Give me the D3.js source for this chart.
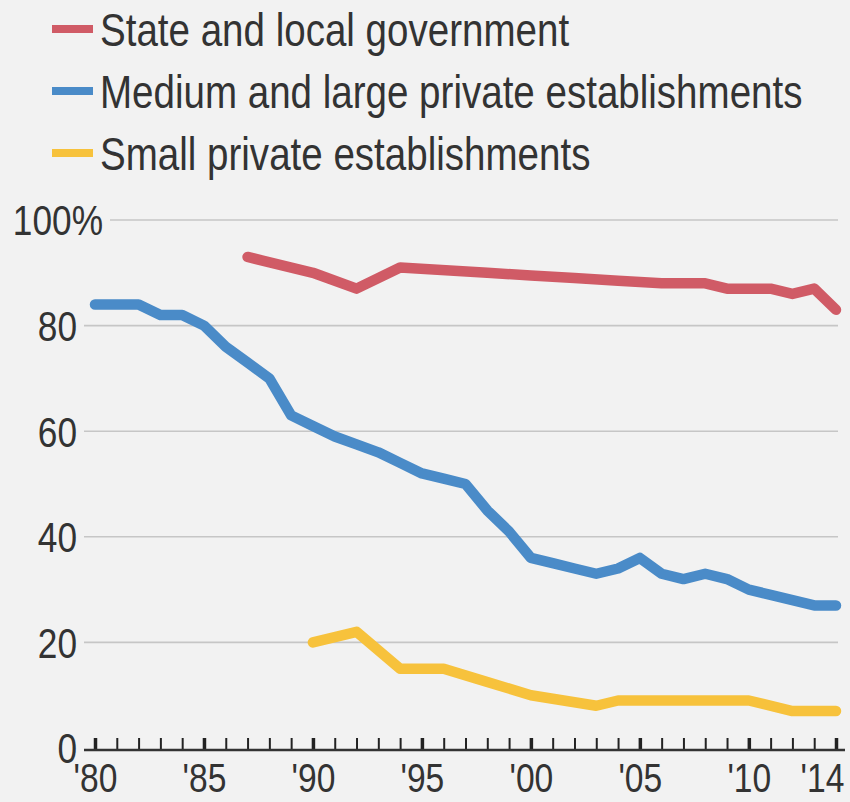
<!DOCTYPE html>
<html>
<head>
<meta charset="utf-8">
<script src="https://cdn.jsdelivr.net/npm/d3@7"></script>
<style>
  html, body { margin: 0; padding: 0; background: #f2f2f2; }
  svg { display: block; font-family: "Liberation Sans", Arial, sans-serif; }
</style>
</head>
<body>
<svg id="chart" width="850" height="802"></svg>
<script>
// Share of workers with access to retirement benefits, by employer type
const seriesNames = [
  "State and local government",
  "Medium and large private establishments",
  "Small private establishments",
];
const seriesColors = ["#d05b66", "#4a8bc8", "#f7c23c"];

const stateYears = [1987, 1990, 1992, 1994, 1998, 2000, 2002, 2004, 2006, 2008, 2009, 2010, 2011, 2012, 2013, 2014];
const stateValues = [93, 90, 87, 91, 90, 89.5, 89, 88.5, 88, 88, 87, 87, 87, 86, 87, 83];

const mediumYears = d3.range(1980, 2015);
const mediumValues = [84, 84, 84, 82, 82, 80, 76, 73, 70, 63, 61, 59, 57.5, 56, 54, 52, 51, 50, 45, 41,
  36, 35, 34, 33, 34, 36, 33, 32, 33, 32, 30, 29, 28, 27, 27];

const smallYears = [1990, 1992, 1994, 1996, 1998, 2000, 2003, 2004, 2010, 2012, 2014];
const smallValues = [20, 22, 15, 15, 12.5, 10, 8, 9, 9, 7, 7];

const yTicks = [0, 20, 40, 60, 80, 100];
const xLabelYears = [1980, 1985, 1990, 1995, 2000, 2005, 2010, 2014];

const series = [
  { years: stateYears, values: stateValues },
  { years: mediumYears, values: mediumValues },
  { years: smallYears, values: smallValues },
];

// condensed look: squeeze a regular sans horizontally
const squeeze = 0.82;

const svg = d3.select("#chart");

const x = d3.scaleLinear().domain([1980, 2014]).range([95, 836]);
const y = d3.scaleLinear().domain([0, 100]).range([748, 220]);

// gridlines
svg.append("g")
  .selectAll("line")
  .data(yTicks.filter((d) => d > 0))
  .join("line")
  .attr("x1", (d) => (d === 100 ? 110 : 84))
  .attr("x2", 838)
  .attr("y1", (d) => y(d))
  .attr("y2", (d) => y(d))
  .attr("stroke", "#c6c6c6")
  .attr("stroke-width", 1.6);

// y labels
svg.append("g")
  .selectAll("text")
  .data(yTicks)
  .join("text")
  .attr("transform", (d) => `translate(${d === 100 ? 103 : 77},${y(d)}) scale(${squeeze},1)`)
  .attr("dy", "0.36em")
  .attr("text-anchor", "end")
  .attr("font-size", 43)
  .attr("fill", "#333")
  .text((d) => (d === 100 ? d + "%" : d));

// x axis with yearly ticks
const xAxis = d3.axisBottom(x)
  .tickValues(d3.range(1980, 2015))
  .tickSizeInner(-12)
  .tickSizeOuter(0)
  .tickFormat((d) => (xLabelYears.includes(d) ? "'" + String(d).slice(2) : ""));

const gx = svg.append("g")
  .attr("transform", `translate(0,${y(0) + 2})`)
  .call(xAxis);

gx.select(".domain").remove();
gx.append("line")
  .attr("x1", 84)
  .attr("x2", 845)
  .attr("stroke", "#333")
  .attr("stroke-width", 2.5);
gx.selectAll(".tick line")
  .attr("stroke", "#222")
  .attr("stroke-width", (d) => (xLabelYears.includes(d) ? 3.5 : 2));
gx.selectAll(".tick text")
  .attr("y", null)
  .attr("dy", null)
  // last label is nudged left so it stays inside the frame
  .attr("transform", (d) => `translate(${d === 2014 ? -14 : 0},42) scale(${squeeze},1)`)
  .attr("font-size", 41)
  .attr("font-family", "inherit")
  .attr("fill", "#333");

// lines
const line = d3.line()
  .x((d) => x(d[0]))
  .y((d) => y(d[1]));

svg.append("g")
  .selectAll("path")
  .data(series)
  .join("path")
  .attr("d", (s) => line(s.years.map((yr, i) => [yr, s.values[i]])))
  .attr("fill", "none")
  .attr("stroke", (s, i) => seriesColors[i])
  .attr("stroke-width", 10.5)
  .attr("stroke-linejoin", "round")
  .attr("stroke-linecap", "round");

// legend
const legend = svg.append("g")
  .selectAll("g")
  .data(seriesNames)
  .join("g")
  .attr("transform", (d, i) => `translate(0,${29 + i * 62})`);

legend.append("line")
  .attr("x1", 52)
  .attr("x2", 93)
  .attr("stroke", (d, i) => seriesColors[i])
  .attr("stroke-width", 8);

legend.append("text")
  .attr("transform", `translate(100,0) scale(${squeeze},1)`)
  .attr("dy", "0.36em")
  .attr("font-size", 47)
  .attr("fill", "#333")
  .text((d) => d);
</script>
</body>
</html>
